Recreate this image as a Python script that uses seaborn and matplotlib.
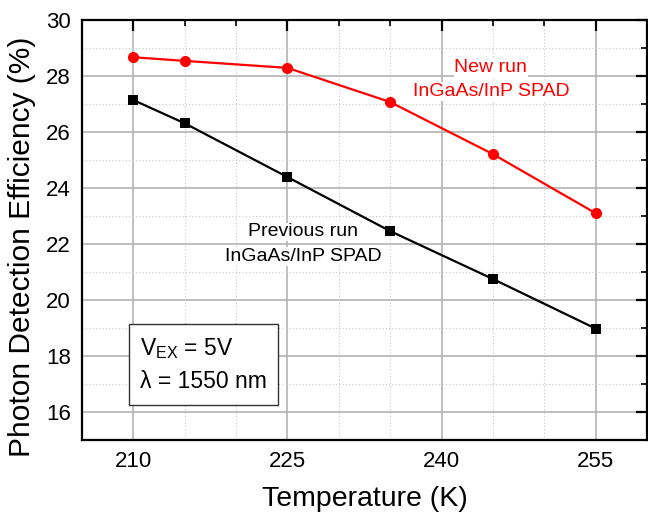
import matplotlib
matplotlib.use("Agg")
import matplotlib.pyplot as plt
from matplotlib.ticker import MultipleLocator
import seaborn as sns
import pandas as pd

temperature = [210, 215, 225, 235, 245, 255]
pde_new = [28.67, 28.54, 28.29, 27.07, 25.21, 23.10]
pde_previous = [27.14, 26.31, 24.39, 22.46, 20.75, 18.98]
series_names = ["New run", "Previous run"]

df = pd.DataFrame({
    "Temperature": temperature * 2,
    "PDE": pde_new + pde_previous,
    "run": [series_names[0]] * len(temperature) + [series_names[1]] * len(temperature),
})

sns.set_style("white")
plt.rcParams['font.family'] = ['Liberation Sans', 'DejaVu Sans']
plt.rcParams['mathtext.fontset'] = 'custom'
plt.rcParams['mathtext.rm'] = 'Liberation Sans'
plt.rcParams['mathtext.it'] = 'Liberation Sans:italic'
for k in ['text.color', 'axes.labelcolor', 'xtick.color', 'ytick.color']:
    plt.rcParams[k] = 'black'

fig = plt.figure(figsize=(6.48, 5.14), dpi=100)
ax = fig.add_axes([82 / 648, 1 - 440 / 514, (647 - 82) / 648, (440 - 20) / 514])

ax.set_xlim(205, 260)
ax.set_ylim(15, 30)
ax.xaxis.set_major_locator(MultipleLocator(15))
ax.xaxis.set_minor_locator(MultipleLocator(5))
ax.yaxis.set_major_locator(MultipleLocator(2))
ax.yaxis.set_minor_locator(MultipleLocator(1))
ax.set_yticks([16, 18, 20, 22, 24, 26, 28, 30])

ax.grid(which="major", color="#b4b4b4", linewidth=1.2, linestyle="-")
ax.grid(which="minor", color="#c8c8c8", linewidth=0.8, linestyle=(0, (1, 2)))
ax.set_axisbelow(True)

sns.lineplot(data=df, x="Temperature", y="PDE", hue="run", style="run",
             palette={"New run": "#ff0000", "Previous run": "#000000"},
             markers={"New run": "o", "Previous run": "s"},
             dashes=False, markersize=8, linewidth=1.6,
             markeredgewidth=0, legend=False, ax=ax)

for line in ax.get_lines():
    if line.get_marker() == "s":
        line.set_markersize(7)

for sp in ax.spines.values():
    sp.set_linewidth(1.6)
    sp.set_color("black")

ax.tick_params(which="major", direction="in", length=8, width=1.6,
               top=True, right=True, labelsize=16, pad=8)
ax.tick_params(which="minor", direction="in", length=4, width=1.2,
               top=True, right=True)

ax.set_xlabel("Temperature (K)", fontsize=20.5, labelpad=10)
ax.set_ylabel("Photon Detection Efficiency (%)", fontsize=21.5)
ax.yaxis.set_label_coords(-0.082, 0.46)

bbox_white = dict(facecolor="white", edgecolor="none", pad=0.5)
ax.text(244.8, 28.29, "New run", color="#ff0000", fontsize=14,
        ha="center", va="center", bbox=bbox_white)
ax.text(244.8, 27.44, "InGaAs/InP SPAD", color="#ff0000", fontsize=14,
        ha="center", va="center", bbox=bbox_white)
ax.text(226.5, 22.43, "Previous run", color="black", fontsize=14,
        ha="center", va="center", bbox=bbox_white)
ax.text(226.5, 21.55, "InGaAs/InP SPAD", color="black", fontsize=14,
        ha="center", va="center", bbox=bbox_white)

ax.text(210.65, 17.68, "V$_{\\mathrm{EX}}$ = 5V\n\u03bb = 1550 nm", fontsize=16.5,
        ha="left", va="center", linespacing=1.5,
        bbox=dict(facecolor="white", edgecolor="#333333", linewidth=1.0,
                  boxstyle="square,pad=0.5"))

fig.savefig("out.png", dpi=100)
